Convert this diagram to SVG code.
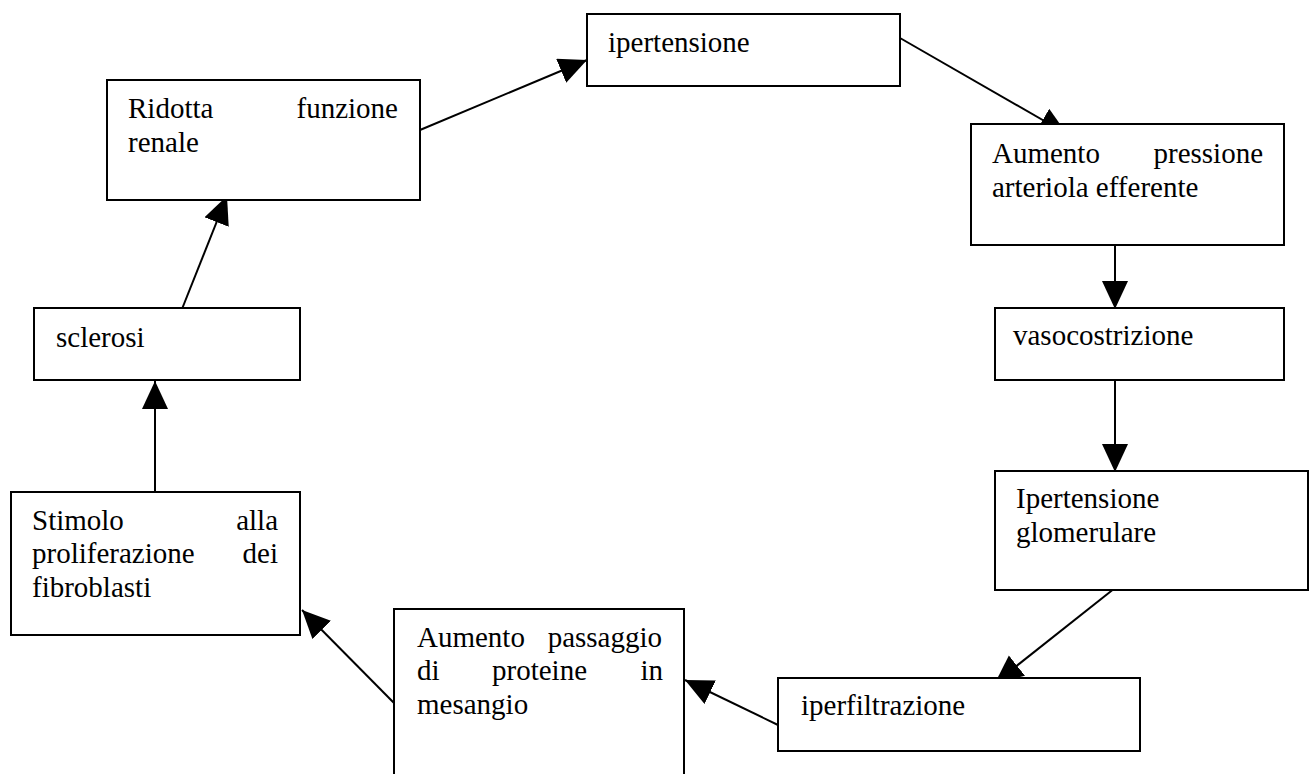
<svg xmlns="http://www.w3.org/2000/svg" width="1310" height="774" viewBox="0 0 1310 774">
  <style>
    .box { fill: #ffffff; stroke: #000000; stroke-width: 2; }
    .end { text-anchor: end; }
    .link { stroke: #000000; stroke-width: 2; fill: none; marker-end: url(#head); }
  </style>
  <defs>
    <marker id="head" markerUnits="userSpaceOnUse" markerWidth="30" markerHeight="28" refX="28" refY="13" orient="auto" viewBox="0 0 30 28">
      <path d="M0,0 L28,13 L0,26 Z" fill="#000000"/>
    </marker>
  </defs>

  <rect width="1310" height="774" fill="#ffffff"/>

  <!-- connectors -->
  <g id="connectors">
    <line class="link" x1="420" y1="130" x2="587" y2="60"/>
    <line class="link" x1="900" y1="38" x2="1067" y2="134"/>
    <line class="link" x1="1115" y1="241" x2="1115" y2="309"/>
    <line class="link" x1="1115" y1="378" x2="1115" y2="472"/>
    <line class="link" x1="1115" y1="588" x2="995" y2="683"/>
    <line class="link" x1="778" y1="725" x2="685" y2="680"/>
    <line class="link" x1="394" y1="703" x2="302" y2="610"/>
    <line class="link" x1="155" y1="497" x2="155" y2="381"/>
    <line class="link" x1="180" y1="314" x2="227" y2="196"/>
  </g>

  <!-- nodes: all labels share one serif face -->
  <g font-family="Liberation Serif, Times New Roman, serif" font-size="29" fill="#000000">
    <g id="ipertensione">
      <rect class="box" x="587" y="14" width="313" height="72"/>
      <text x="608" y="52">ipertensione</text>
    </g>

    <g id="aumento-pressione">
      <rect class="box" x="971" y="124" width="313" height="121"/>
      <text x="992" y="163">Aumento</text>
      <text class="end" x="1263" y="163">pressione</text>
      <text x="992" y="197">arteriola efferente</text>
    </g>

    <g id="vasocostrizione">
      <rect class="box" x="995" y="308" width="289" height="72"/>
      <text x="1013" y="345">vasocostrizione</text>
    </g>

    <g id="ipertensione-glomerulare">
      <rect class="box" x="995" y="471" width="313" height="119"/>
      <text x="1016" y="508">Ipertensione</text>
      <text x="1016" y="542">glomerulare</text>
    </g>

    <g id="iperfiltrazione">
      <rect class="box" x="778" y="678" width="362" height="73"/>
      <text x="801" y="715">iperfiltrazione</text>
    </g>

    <g id="aumento-passaggio">
      <rect class="box" x="394" y="609" width="290" height="190"/>
      <text x="417" y="647">Aumento</text>
      <text class="end" x="662" y="647">passaggio</text>
      <text x="417" y="680">di</text>
      <text x="492" y="680">proteine</text>
      <text class="end" x="663" y="680">in</text>
      <text x="417" y="714">mesangio</text>
    </g>

    <g id="stimolo">
      <rect class="box" x="11" y="492" width="289" height="143"/>
      <text x="32" y="530">Stimolo</text>
      <text class="end" x="278" y="530">alla</text>
      <text x="32" y="563">proliferazione</text>
      <text class="end" x="278" y="563">dei</text>
      <text x="32" y="597">fibroblasti</text>
    </g>

    <g id="sclerosi">
      <rect class="box" x="34" y="308" width="266" height="72"/>
      <text x="56" y="347">sclerosi</text>
    </g>

    <g id="ridotta-funzione">
      <rect class="box" x="107" y="80" width="313" height="120"/>
      <text x="128" y="118">Ridotta</text>
      <text class="end" x="398" y="118">funzione</text>
      <text x="128" y="152">renale</text>
    </g>
  </g>
</svg>
